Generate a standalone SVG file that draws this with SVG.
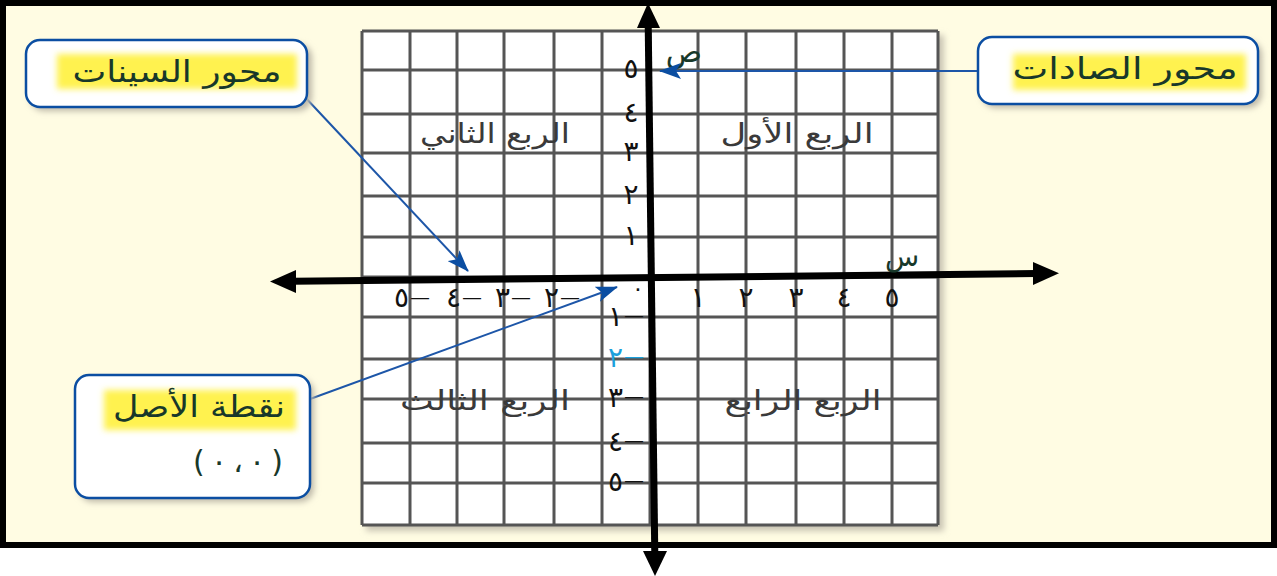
<svg xmlns="http://www.w3.org/2000/svg" width="1277" height="576" viewBox="0 0 1277 576">
<defs>
<style>
.grid line{stroke:#555;stroke-width:3}
.ar{font-family:"DejaVu Sans",sans-serif;fill:#18382a;text-anchor:middle}
.q{font-family:"DejaVu Sans",sans-serif;fill:#3a3a3a;font-size:27px;text-anchor:middle}
.num{font-family:"DejaVu Sans",sans-serif;fill:#111;font-size:28px;text-anchor:middle}
.d{font-size:20px}
.box{fill:#fff;stroke:#0b4ea2;stroke-width:2.5}
.hl{fill:#fff24f;filter:url(#soft)}
.lead{stroke:#1d56a8;stroke-width:2;fill:none;marker-end:url(#ah)}
.axis{stroke:#000;stroke-width:7;stroke-linecap:butt}
</style>
<filter id="soft" x="-10%" y="-30%" width="120%" height="160%"><feGaussianBlur stdDeviation="3"/></filter>
<filter id="shadow" x="-10%" y="-10%" width="130%" height="130%"><feGaussianBlur stdDeviation="3"/></filter>
<marker id="ah" viewBox="0 0 22 16" refX="21" refY="8" markerWidth="22" markerHeight="16" markerUnits="userSpaceOnUse" orient="auto"><path d="M0,0 L22,8 L0,16 L5,8 Z" fill="#0b4ea2"/></marker>
</defs>
<rect x="0" y="0" width="1277" height="576" fill="#fff"/>
<rect x="3" y="3" width="1271" height="542" fill="#fffce3" stroke="#000" stroke-width="6"/>

<g id="grid">
<rect x="366" y="35" width="578" height="496" fill="#c9c4b4" filter="url(#shadow)"/>
<rect x="362" y="31" width="576" height="494" fill="#fff"/>
<g class="grid">
<line x1="362" y1="31" x2="362" y2="525"/><line x1="410" y1="31" x2="410" y2="525"/><line x1="457" y1="31" x2="457" y2="525"/><line x1="504" y1="31" x2="504" y2="525"/><line x1="554" y1="31" x2="554" y2="525"/><line x1="602" y1="31" x2="602" y2="525"/><line x1="650" y1="31" x2="650" y2="525"/><line x1="698" y1="31" x2="698" y2="525"/><line x1="746" y1="31" x2="746" y2="525"/><line x1="796" y1="31" x2="796" y2="525"/><line x1="844" y1="31" x2="844" y2="525"/><line x1="892" y1="31" x2="892" y2="525"/><line x1="938" y1="31" x2="938" y2="525"/>
<line x1="362" y1="31" x2="938" y2="31"/><line x1="362" y1="70" x2="938" y2="70"/><line x1="362" y1="114" x2="938" y2="114"/><line x1="362" y1="153" x2="938" y2="153"/><line x1="362" y1="196" x2="938" y2="196"/><line x1="362" y1="237" x2="938" y2="237"/><line x1="362" y1="277" x2="938" y2="277"/><line x1="362" y1="317" x2="938" y2="317"/><line x1="362" y1="359" x2="938" y2="359"/><line x1="362" y1="399" x2="938" y2="399"/><line x1="362" y1="443" x2="938" y2="443"/><line x1="362" y1="483" x2="938" y2="483"/><line x1="362" y1="525" x2="938" y2="525"/>
</g>
</g>

<g id="quadrants">
<text class="q" x="797" y="143" textLength="153" lengthAdjust="spacingAndGlyphs">الربع الأول</text>
<text class="q" x="495" y="143" textLength="150" lengthAdjust="spacingAndGlyphs">الربع الثاني</text>
<text class="q" x="485" y="410" textLength="170" lengthAdjust="spacingAndGlyphs">الربع الثالث</text>
<text class="q" x="803" y="410" textLength="157" lengthAdjust="spacingAndGlyphs">الربع الرابع</text>
</g>

<g id="x-labels">
<text class="num" x="698" y="307">١</text>
<text class="num" x="746" y="307">٢</text>
<text class="num" x="796" y="307">٣</text>
<text class="num" x="844" y="307">٤</text>
<text class="num" x="892" y="307">٥</text>
<text class="num" x="638" y="296" style="font-size:22px">٠</text>
<text class="num" x="562" y="307">٢<tspan class="d" dx="1" dy="-3">—</tspan></text>
<text class="num" x="513" y="307">٣<tspan class="d" dx="1" dy="-3">—</tspan></text>
<text class="num" x="464" y="307">٤<tspan class="d" dx="1" dy="-3">—</tspan></text>
<text class="num" x="412" y="307">٥<tspan class="d" dx="1" dy="-3">—</tspan></text>
</g>

<g id="y-labels">
<text class="num" x="631" y="78">٥</text>
<text class="num" x="631" y="122">٤</text>
<text class="num" x="631" y="161">٣</text>
<text class="num" x="631" y="204">٢</text>
<text class="num" x="631" y="245">١</text>
<text class="num" x="626" y="326">١<tspan class="d" dx="1" dy="-4">—</tspan></text>
<text class="num" x="626" y="367" style="fill:#1ba0dc">٢<tspan class="d" dx="1" dy="-4">—</tspan></text>
<text class="num" x="626" y="407">٣<tspan class="d" dx="1" dy="-4">—</tspan></text>
<text class="num" x="626" y="451">٤<tspan class="d" dx="1" dy="-4">—</tspan></text>
<text class="num" x="626" y="491">٥<tspan class="d" dx="1" dy="-4">—</tspan></text>
</g>

<g id="axes">
<line class="axis" x1="293" y1="281.2" x2="1036" y2="273.6"/>
<polygon points="270,281.5 296,270 296,293" fill="#000"/>
<polygon points="1059,273.3 1033,262 1033,285" fill="#000"/>
<line class="axis" x1="648.2" y1="25" x2="654.8" y2="555"/>
<polygon points="648,3 637,28 660,28" fill="#000"/>
<polygon points="655,576 643,551 667,551" fill="#000"/>
<text class="ar" x="684" y="62" font-size="30" fill="#222">ص</text>
<text class="ar" x="902" y="266" font-size="28" fill="#222">س</text>
</g>

<g id="connectors">
<line class="lead" x1="303" y1="95" x2="468" y2="271"/>
<line class="lead" x1="978" y1="71" x2="660" y2="71"/>
<line class="lead" x1="310" y1="399" x2="617" y2="287"/>
</g>

<g id="x-axis-callout">
<rect x="30" y="44" width="282" height="67" rx="14" fill="#bdb8a8" filter="url(#shadow)"/>
<rect class="box" x="26" y="40" width="281" height="67" rx="14"/>
<rect class="hl" x="57" y="54" width="240" height="35"/>
<text class="ar" x="177" y="82" font-size="30" textLength="209" lengthAdjust="spacingAndGlyphs">محور السينات</text>
</g>

<g id="y-axis-callout">
<rect x="982" y="41" width="280" height="67" rx="14" fill="#bdb8a8" filter="url(#shadow)"/>
<rect class="box" x="978" y="37" width="280" height="67" rx="14"/>
<rect class="hl" x="1013" y="54" width="233" height="36"/>
<text class="ar" x="1125" y="79" font-size="30" textLength="225" lengthAdjust="spacingAndGlyphs">محور الصادات</text>
</g>

<g id="origin-callout">
<rect x="79" y="379" width="235" height="123" rx="14" fill="#bdb8a8" filter="url(#shadow)"/>
<rect class="box" x="75" y="375" width="235" height="123" rx="14"/>
<rect class="hl" x="104" y="390" width="192" height="40"/>
<text class="ar" x="199" y="417" font-size="30" textLength="172" lengthAdjust="spacingAndGlyphs">نقطة الأصل</text>
<text class="ar" x="238" y="472" font-size="30" fill="#0b4ea2" textLength="90" lengthAdjust="spacing">(٠،٠)</text>
</g>
</svg>
